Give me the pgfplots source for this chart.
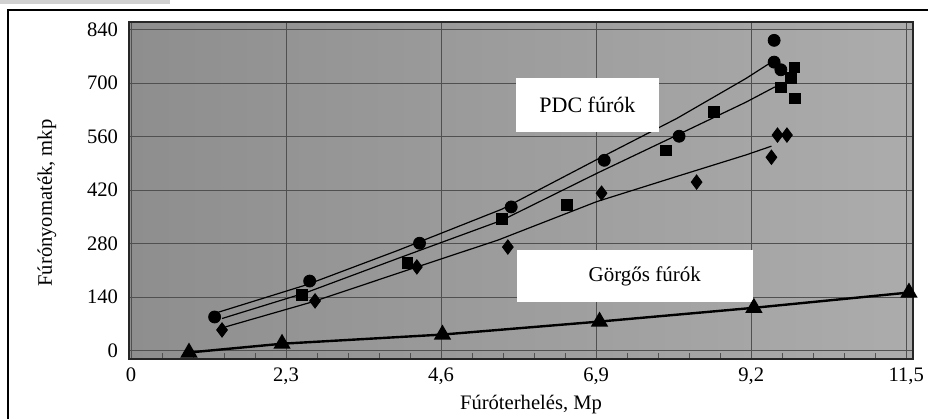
\documentclass[border=0pt]{standalone}
\usepackage{fontspec}
\setmainfont{Liberation Serif}
\usepackage{pgfplots}
\pgfplotsset{compat=1.18}
\definecolor{bgL}{RGB}{142,142,142}
\definecolor{bgR}{RGB}{172,172,172}
\definecolor{gridc}{RGB}{80,80,80}
\begin{document}
\begin{tikzpicture}
\useasboundingbox (0pt,0pt) rectangle (464pt,-209.5pt);
\fill[black!18] (0pt,0pt) rectangle (85pt,-2pt);
\draw[line width=1pt] (4pt,-209.5pt) -- (4pt,-5pt) -- (464pt,-5pt);
\begin{axis}[at={(64.5pt,-179.5pt)}, anchor=south west, scale only axis,
  width=392pt, height=168.5pt,
  xmin=-0.03, xmax=11.6, ymin=-22, ymax=860,
  xtick={0,2.3,4.6,6.9,9.2,11.5},
  xticklabels={0,{2,3},{4,6},{6,9},{9,2},{11,5}},
  ytick={0,140,280,420,560,700,840},
  grid=major, major grid style={gridc, line width=0.5pt},
  major tick length=0pt,
  minor x tick num=4, minor tick length=3pt, minor tick style={gridc, line width=0.5pt},
  xtick pos=bottom, ytick pos=left,
  axis line style={line width=1pt, black!85},
  axis background/.style={left color=bgL, right color=bgR},
  /pgf/number format/assume math mode=true,
  tick label style={font=\fontsize{10.3}{12}\selectfont},
  yticklabel style={xshift=-2pt},
  xticklabel style={yshift=-1pt},
  xlabel={Fúróterhelés, Mp},
  ylabel={Fúrónyomaték, mkp},
  label style={font=\fontsize{10.3}{12}\selectfont},
  xlabel style={at={(axis description cs:0.5,0)}, anchor=center, yshift=-23pt, xshift=5pt},
  ylabel style={at={(axis description cs:0,0.463)}, anchor=center, yshift=41pt},
  clip=false,
]
% trend lines
\addplot[black, line width=0.6pt] coordinates {(1.25,98) (2.6,172) (3.97,263) (5.5,370) (6.91,500) (8.1,608) (9.12,712) (9.5,755)};
\addplot[black, line width=0.6pt] coordinates {(1.35,84) (2.6,152) (3.97,242) (5.5,341) (6.91,464) (8.1,564) (9.12,650) (9.55,690)};
\addplot[black, line width=0.6pt] coordinates {(1.4,62) (2.7,128) (3.97,203) (5.44,289) (6.91,390) (8.1,456) (9.12,512) (9.5,535)};
% circles
\addplot[only marks, mark=*, mark size=3pt, black] coordinates {(1.24,88) (2.65,182) (4.28,281) (5.64,376) (7.02,498) (8.13,561) (9.54,755) (9.54,812) (9.64,735)};
% squares
\addplot[only marks, mark=square*, mark size=2.7pt, black] coordinates {(2.53,145) (4.1,229) (5.5,344) (6.46,381) (7.94,524) (8.65,624) (9.64,689) (9.79,713) (9.84,741) (9.85,660)};
% diamonds
\addplot[only marks, mark=diamond*, mark size=3.6pt, black] coordinates {(1.35,54) (2.73,130) (4.24,219) (5.59,271) (6.98,412) (8.39,441) (9.5,506) (9.59,564) (9.73,564)};
% triangles
\addplot[black, line width=1.2pt, mark=triangle*, mark size=3.8pt] coordinates {(0.86,-5) (2.24,18) (4.62,42) (6.95,76) (9.24,112) (11.54,152)};
% labels
\node[fill=white, minimum width=71.5pt, minimum height=27pt, inner sep=0pt, font=\fontsize{11}{13}\selectfont] at (axis cs:6.77,643) {PDC fúrók};
\node[fill=white, minimum width=118pt, minimum height=26pt, inner sep=0pt] at (axis cs:7.47,195) {};
\node[font=\fontsize{10.5}{12.5}\selectfont] at (axis cs:7.62,195) {Görgős fúrók};
\end{axis}
\end{tikzpicture}
\end{document}
